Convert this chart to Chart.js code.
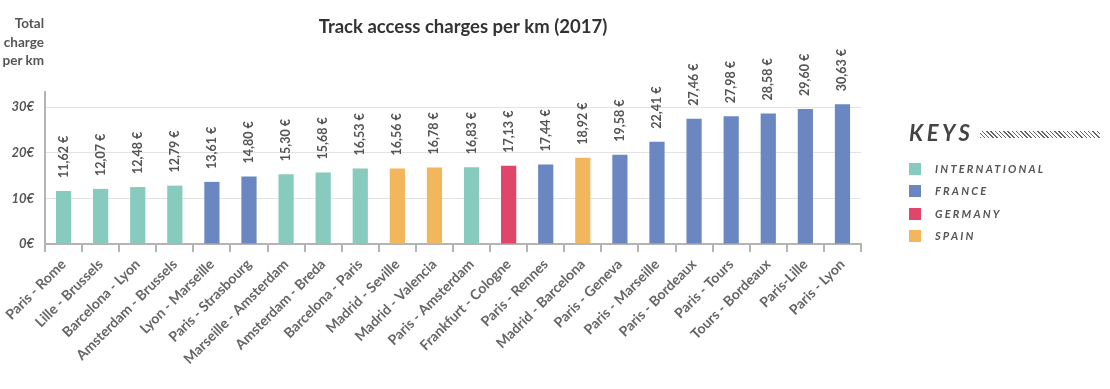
<!DOCTYPE html>
<html>
<head>
<meta charset="utf-8">
<script src="https://cdn.jsdelivr.net/npm/chart.js@4"></script>
<style>
  html, body { margin: 0; padding: 0; background: #fff; }
  #wrap { position: relative; width: 1110px; height: 389px; font-family: Lato, 'Open Sans', sans-serif; }
  #axis-title { position: absolute; left: 0; top: 14px; width: 44px; text-align: right; font-weight: 700; font-size: 13.5px; line-height: 18.5px; color: #555; }
  #keys { position: absolute; left: 909px; top: 119px; }
  #keys .head { font-weight: 700; font-style: italic; font-size: 22px; letter-spacing: 3.6px; color: #444; position: relative; }
  #keys .hatch { position: absolute; left: 71px; top: 12px; width: 120px; height: 7px;
    background: repeating-linear-gradient(45deg, #666 0 1px, transparent 1px 3px); }
  #keys .item { position: absolute; left: 0; height: 12px; }
  #keys .sw { position: absolute; left: 0; top: 0; width: 12px; height: 12px; }
  #keys .lbl { position: absolute; left: 26px; top: -1px; font-weight: 700; font-style: italic; font-size: 11px; letter-spacing: 2.2px; color: #555; white-space: nowrap; }
</style>
</head>
<body>
<div id="wrap">
  <canvas id="chart" width="1110" height="389"></canvas>
  <div id="axis-title">Total charge per&nbsp;km</div>
  <div id="keys">
    <div class="head">KEYS</div>
    <div class="hatch"></div>
  </div>
</div>
<script>
// ---- data ----
const ROUTES = [
  'Paris - Rome', 'Lille - Brussels', 'Barcelona - Lyon', 'Amsterdam - Brussels',
  'Lyon - Marseille', 'Paris - Strasbourg', 'Marseille - Amsterdam', 'Amsterdam - Breda',
  'Barcelona - Paris', 'Madrid - Seville', 'Madrid - Valencia', 'Paris - Amsterdam',
  'Frankfurt - Cologne', 'Paris - Rennes', 'Madrid - Barcelona', 'Paris - Geneva',
  'Paris - Marseille', 'Paris - Bordeaux', 'Paris - Tours', 'Tours - Bordeaux',
  'Paris-Lille', 'Paris - Lyon'
];
const CHARGES = [
  11.62, 12.07, 12.48, 12.79, 13.61, 14.80, 15.30, 15.68, 16.53, 16.56, 16.78,
  16.83, 17.13, 17.44, 18.92, 19.58, 22.41, 27.46, 27.98, 28.58, 29.60, 30.63
];
const GROUP = [
  'INT', 'INT', 'INT', 'INT', 'FR', 'FR', 'INT', 'INT', 'INT', 'ES', 'ES',
  'INT', 'DE', 'FR', 'ES', 'FR', 'FR', 'FR', 'FR', 'FR', 'FR', 'FR'
];
const KEY_CODES = ['INT', 'FR', 'DE', 'ES'];
const KEY_NAMES = ['INTERNATIONAL', 'FRANCE', 'GERMANY', 'SPAIN'];
const Y_TICKS = [0, 10, 20, 30];

const GROUP_COLORS = {
  INT: '#87cabe', // teal
  FR: '#6a87c1',  // blue
  DE: '#e0466a',  // red
  ES: '#f2b65d',  // orange
};

const FONT = "Lato, 'Open Sans', sans-serif";
const AXIS_GREY = '#b4b4b4';

// legend (keys) block
const keys = document.getElementById('keys');
KEY_CODES.forEach((code, i) => {
  const item = document.createElement('div');
  item.className = 'item';
  item.style.top = (44 + i * 22.3) + 'px';
  item.innerHTML = `<div class="sw" style="background:${GROUP_COLORS[code]}"></div><div class="lbl">${KEY_NAMES[i]}</div>`;
  keys.appendChild(item);
});

// value labels above bars + title
const barLabels = {
  id: 'barLabels',
  afterDatasetsDraw(chart) {
    const ctx = chart.ctx;
    const meta = chart.getDatasetMeta(0);
    ctx.save();
    ctx.fillStyle = '#555';
    ctx.font = `700 12.5px ${FONT}`;
    ctx.textAlign = 'left';
    ctx.textBaseline = 'middle';
    meta.data.forEach((bar, i) => {
      const txt = CHARGES[i].toFixed(2).replace('.', ',') + ' €';
      ctx.save();
      ctx.translate(bar.x, bar.y - 13);
      ctx.rotate(-Math.PI / 2);
      ctx.fillText(txt, 0, 0);
      ctx.restore();
    });
    // title
    ctx.fillStyle = '#333';
    ctx.font = `700 18.5px ${FONT}`;
    ctx.textAlign = 'center';
    ctx.fillText('Track access charges per km (2017)', 463, 27);
    ctx.restore();
  }
};

new Chart(document.getElementById('chart'), {
  type: 'bar',
  data: {
    labels: ROUTES,
    datasets: [{
      data: CHARGES,
      backgroundColor: GROUP.map(g => GROUP_COLORS[g]),
      borderWidth: 0,
      categoryPercentage: 1,
      barPercentage: 0.41,
    }],
  },
  options: {
    responsive: false,
    animation: false,
    layout: { padding: { top: 92, right: 249, left: 0, bottom: 0 } },
    plugins: {
      legend: { display: false },
      tooltip: { enabled: false },
    },
    scales: {
      x: {
        afterFit: (s) => { s.height = 145; },
        border: { color: AXIS_GREY, width: 2 },
        grid: { offset: true, drawOnChartArea: false, tickLength: 8, color: AXIS_GREY, lineWidth: 2 },
        ticks: {
          color: '#666',
          font: { family: FONT, size: 14, weight: '700' },
          minRotation: 45,
          maxRotation: 45,
          autoSkip: false,
          padding: 4,
        },
      },
      y: {
        min: 0,
        max: 33.3,
        afterFit: (s) => { s.width = 45; },
        afterBuildTicks: (s) => { s.ticks = Y_TICKS.map(v => ({ value: v })); },
        border: { color: AXIS_GREY, width: 2 },
        grid: {
          drawTicks: false,
          color: (c) => c.tick && c.tick.value === 0 ? 'rgba(0,0,0,0)' : '#e3e3e3',
          lineWidth: 1,
        },
        ticks: {
          color: '#555',
          padding: 11,
          font: { family: FONT, size: 13, weight: '700', style: 'italic' },
          callback: (v) => v + '€',
        },
      },
    },
  },
  plugins: [barLabels],
});
</script>
</body>
</html>
